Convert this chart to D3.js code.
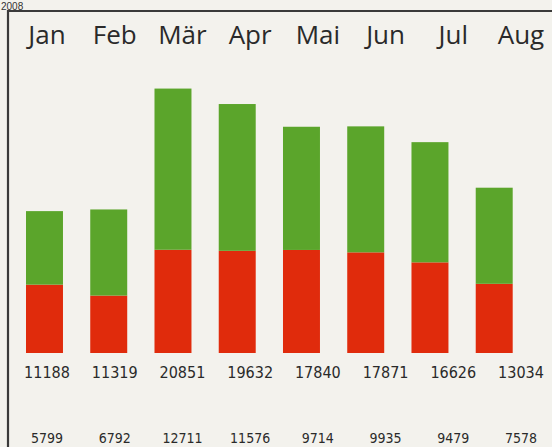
<!DOCTYPE html>
<html>
<head>
<meta charset="utf-8">
<script src="https://cdn.jsdelivr.net/npm/d3@7"></script>
<style>
  html, body { margin: 0; padding: 0; background: #f3f2ed; }
  svg { display: block; }
</style>
</head>
<body>
<div id="chart"></div>
<script>
const year = "2008";
const months = ["Jan", "Feb", "Mär", "Apr", "Mai", "Jun", "Jul", "Aug"];
const totals = [11188, 11319, 20851, 19632, 17840, 17871, 16626, 13034];
const greenValues = [5799, 6792, 12711, 11576, 9714, 9935, 9479, 7578];
const redValues = totals.map((t, i) => t - greenValues[i]);

const W = 552, H = 447;
const svg = d3.select("#chart").append("svg").attr("width", W).attr("height", H);

svg.append("rect").attr("width", W).attr("height", H).attr("fill", "#f3f2ed");

const x = d3.scaleBand().domain(months).range([26, 512.7]).paddingInner(0.4245).paddingOuter(0);
const xl = d3.scalePoint().domain(months).range([47, 521]);
const y = d3.scaleLinear().domain([0, 22000]).range([353, 74]);

// frame
svg.append("path")
  .attr("d", `M8,${H} L8,11 L${W},11`)
  .attr("fill", "none").attr("stroke", "#3a3a3a").attr("stroke-width", 2.2);

// year
svg.append("text").attr("x", 1).attr("y", 9.5)
  .attr("font-family", "'Liberation Sans', Arial, sans-serif").attr("font-size", 10)
  .attr("fill", "#333").text(year);

const g = svg.append("g");
// red (bottom)
g.selectAll("rect.red").data(months).join("rect")
  .attr("class", "red")
  .attr("x", d => x(d)).attr("width", x.bandwidth())
  .attr("y", (d, i) => y(redValues[i]))
  .attr("height", (d, i) => y(0) - y(redValues[i]))
  .attr("fill", "#e02b0c");
// green (top)
g.selectAll("rect.green").data(months).join("rect")
  .attr("class", "green")
  .attr("x", d => x(d)).attr("width", x.bandwidth())
  .attr("y", (d, i) => y(totals[i]))
  .attr("height", (d, i) => y(redValues[i]) - y(totals[i]))
  .attr("fill", "#5ba52b");

// month labels
svg.selectAll("text.month").data(months).join("text")
  .attr("class", "month")
  .attr("x", d => xl(d)).attr("y", 44)
  .attr("text-anchor", "middle")
  .attr("font-family", "'Open Sans', sans-serif").attr("font-size", 26)
  .attr("fill", "#2a2a2a").text(d => d);

// totals row
svg.selectAll("text.total").data(months).join("text")
  .attr("class", "total")
  .attr("x", d => xl(d)).attr("y", 378)
  .attr("text-anchor", "middle")
  .attr("font-family", "'DejaVu Sans Condensed', 'DejaVu Sans', sans-serif").attr("font-size", 16)
  .attr("fill", "#2a2a2a").text((d, i) => totals[i]);

// green row
svg.selectAll("text.greenlab").data(months).join("text")
  .attr("class", "greenlab")
  .attr("x", d => xl(d)).attr("y", 443)
  .attr("text-anchor", "middle")
  .attr("font-family", "'DejaVu Sans Condensed', 'DejaVu Sans', sans-serif").attr("font-size", 14)
  .attr("fill", "#2a2a2a").text((d, i) => greenValues[i]);
</script>
</body>
</html>
